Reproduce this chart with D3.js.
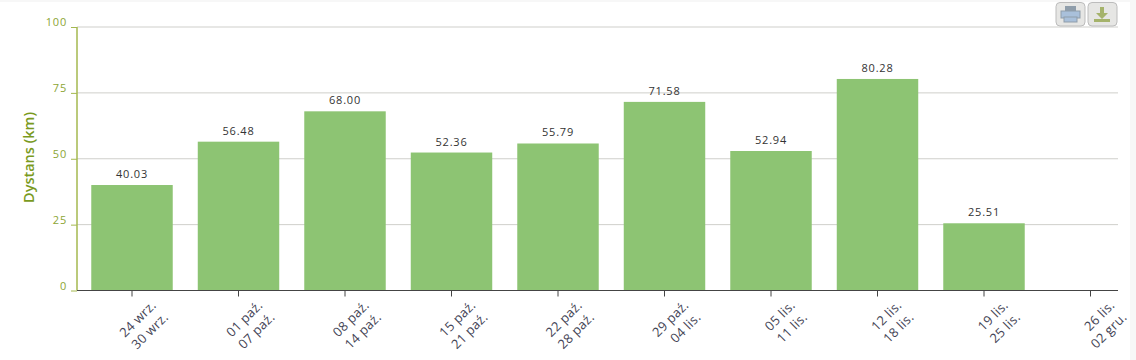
<!DOCTYPE html>
<html>
<head>
<meta charset="utf-8">
<script src="https://d3js.org/d3.v7.min.js"></script>
<style>
  html, body { margin: 0; padding: 0; background: #fff; overflow: hidden; }
  text { font-family: "Open Sans", sans-serif; }
</style>
</head>
<body>
<div id="chart"></div>
<script>
var weeksStart = ["24 wrz.", "01 paź.", "08 paź.", "15 paź.", "22 paź.", "29 paź.", "05 lis.", "12 lis.", "19 lis.", "26 lis."];
var weeksEnd = ["30 wrz.", "07 paź.", "14 paź.", "21 paź.", "28 paź.", "04 lis.", "11 lis.", "18 lis.", "25 lis.", "02 gru."];
var distance = [40.03, 56.48, 68.00, 52.36, 55.79, 71.58, 52.94, 80.28, 25.51, null];
var yTicks = [0, 25, 50, 75, 100];
var yTitle = "Dystans (km)";

var svg = d3.select("#chart").append("svg")
    .attr("width", 1136)
    .attr("height", 360)
    .style("display", "block");

// page edges, grey in the screenshot
svg.append("rect").attr("width", 1136).attr("height", 2).attr("fill", "#f7f7f7");
svg.append("rect").attr("x", 1130).attr("width", 6).attr("height", 360).attr("fill", "#f7f7f7");

var x = d3.scaleBand()
    .domain(weeksStart)
    .range([78.75, 1143.75])
    .paddingInner(0.235)
    .paddingOuter(0.1175);
var y = d3.scaleLinear().domain([0, 100]).range([290.5, 27]);

// grid
svg.append("g").selectAll("line")
    .data(yTicks.filter(function(d) { return d > 0; }))
  .enter().append("line")
    .attr("x1", 77)
    .attr("x2", 1118)
    .attr("y1", function(d) { return y(d); })
    .attr("y2", function(d) { return y(d); })
    .attr("stroke", "#cfcfcb")
    .attr("stroke-width", 1);

// bars
var withData = distance.map(function(d, i) { return {week: weeksStart[i], value: d}; })
    .filter(function(d) { return d.value !== null; });

svg.append("g").selectAll("rect")
    .data(withData)
  .enter().append("rect")
    .attr("x", function(d) { return x(d.week); })
    .attr("width", x.bandwidth())
    .attr("y", function(d) { return y(d.value); })
    .attr("height", function(d) { return y(0) - y(d.value); })
    .attr("fill", "#8dc473");

svg.append("g").selectAll("text")
    .data(withData)
  .enter().append("text")
    .attr("x", function(d) { return x(d.week) + x.bandwidth() / 2; })
    .attr("y", function(d) { return y(d.value) - 7; })
    .attr("text-anchor", "middle")
    .attr("font-size", 11)
    .attr("letter-spacing", "0.8px")
    .attr("fill", "#333")
    .text(function(d) { return d.value.toFixed(2); });

// y axis
var yAxis = d3.axisLeft(y).tickValues(yTicks).tickSize(6).tickPadding(4);
var yG = svg.append("g").attr("transform", "translate(77,0)").call(yAxis);
yG.select(".domain").remove();
yG.append("line").attr("y1", y(100)).attr("y2", y(0)).attr("stroke", "#a4b84f").attr("stroke-width", 1.5);
yG.selectAll(".tick line").attr("stroke", "#a4b84f");
yG.selectAll(".tick text")
    .attr("font-size", 11)
    .attr("font-family", "Open Sans")
    .attr("letter-spacing", "0.8px")
    .attr("dy", "-0.1em")
    .attr("fill", "#8ca534");

svg.append("text")
    .attr("transform", "translate(34,157.500) rotate(-90)")
    .attr("text-anchor", "middle")
    .attr("font-size", 14.5)
    .attr("font-weight", 600)
    .attr("fill", "#7a9a1e")
    .text(yTitle);

// x axis
var xAxis = d3.axisBottom(x).tickSize(6).tickFormat("");
var xG = svg.append("g").attr("transform", "translate(0,290.5)").call(xAxis);
xG.select(".domain").remove();
xG.append("line").attr("x1", 77).attr("x2", 1118).attr("stroke", "#444").attr("stroke-width", 1.2);
xG.selectAll(".tick line").attr("stroke", "#444");

var labels = svg.append("g").selectAll("text")
    .data(weeksStart)
  .enter().append("text")
    .attr("transform", function(d) { return "translate(" + (x(d) + x.bandwidth() / 2 + 25) + ",306) rotate(-45)"; })
    .attr("text-anchor", "end")
    .attr("font-size", 13)
    .attr("letter-spacing", "0.3px")
    .attr("fill", "#445");
labels.append("tspan").attr("x", 0).attr("y", 0).text(function(d) { return d; });
labels.append("tspan").attr("x", 0).attr("y", 17).text(function(d, i) { return weeksEnd[i]; });

// print / download buttons
var buttons = svg.append("g");
[1056, 1088].forEach(function(bx) {
  buttons.append("rect")
      .attr("x", bx).attr("y", 2.5).attr("width", 29).attr("height", 23.5).attr("rx", 4)
      .attr("fill", "#e6e6e4").attr("stroke", "#bcbcbc");
});
buttons.append("rect").attr("x", 1065).attr("y", 6).attr("width", 11).attr("height", 5).attr("fill", "#8f9daa");
buttons.append("rect").attr("x", 1061).attr("y", 11).attr("width", 19).attr("height", 7).attr("fill", "#a9c0da").attr("stroke", "#8f9daa");
buttons.append("rect").attr("x", 1064).attr("y", 17).attr("width", 13).attr("height", 5).attr("fill", "#a9c0da").attr("stroke", "#8f9daa");
buttons.append("path").attr("d", "M1100 7h4v6h4l-6 6l-6-6h4z").attr("fill", "#a5b36b");
buttons.append("rect").attr("x", 1094).attr("y", 19).attr("width", 16).attr("height", 3).attr("fill", "#a5b36b");
</script>
</body>
</html>
